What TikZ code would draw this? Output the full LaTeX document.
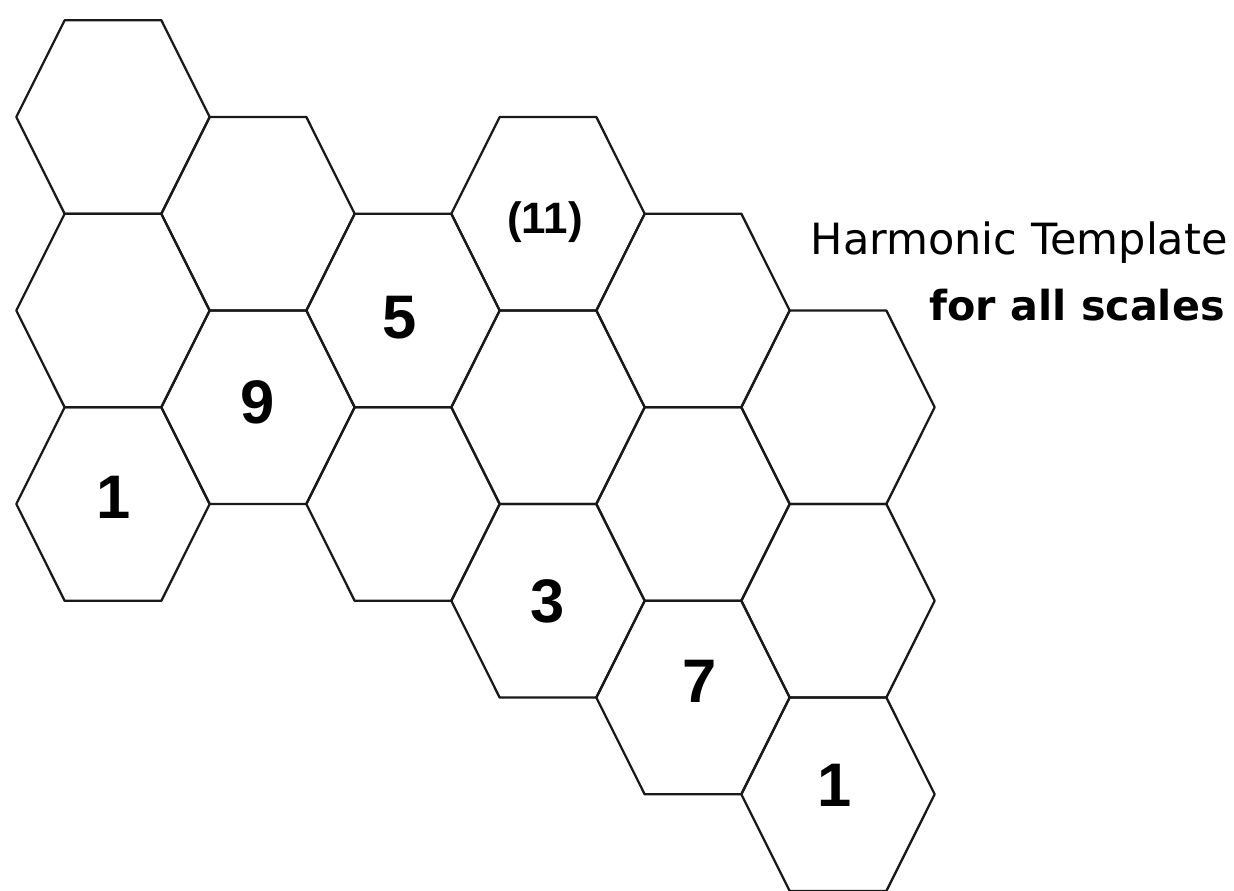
\documentclass[tikz,border=0pt]{standalone}
\usepackage{fontspec}
\newfontfamily\titlefont{DejaVu Sans}
\newfontfamily\digitfont{Liberation Sans}

\begin{document}
\begin{tikzpicture}[
    x=0.02cm, y=-0.02cm,
    cell/.style={draw=black!90, line width=1.3pt, line join=round},
    num/.style={font=\digitfont\bfseries\fontsize{35}{40}\selectfont,
                inner sep=0pt},
    smallnum/.style={font=\digitfont\bfseries\fontsize{25}{30}\selectfont,
                inner sep=0pt},
    caption/.style={font=\titlefont\fontsize{24.5}{28}\selectfont,
                anchor=base east, inner sep=0pt},
]
\useasboundingbox (0,0) rectangle (1234,890);

% --- Hexagon grid (column / half-row index) ---
\def\hs{96.7}
\def\hh{96.75}
\foreach \c/\k in {0/0, 0/2, 0/4, 1/1, 1/3, 2/2, 2/4, 3/1, 3/3, 3/5,
                   4/2, 4/4, 4/6, 5/3, 5/5, 5/7} {
    \draw[cell] ({113 + 145*\c - \hs}, {117 + \hh*\k})
        -- ++({\hs/2}, -\hh) -- ++(\hs, 0) -- ++({\hs/2}, \hh)
        -- ++({-\hs/2}, \hh) -- ++(-\hs, 0) -- cycle;
}

% --- Scale degrees ---
\node[num] (deg1) at (114, 497) {1};
\node[num] (deg9) at (258, 402) {9};
\node[num] (deg5) at (400, 318) {5};
\node[smallnum] (deg11) at (545, 222) {(11)};
\node[num] (deg3) at (548, 601) {3};
\node[num] (deg7) at (700, 681) {7};
\node[num] (degtop) at (835, 785) {1};

% --- Caption ---
\node[caption] (title) at (1228, 254) {Harmonic Template};
\node[caption, font=\titlefont\bfseries\fontsize{23.5}{26}\selectfont]
    (subtitle) at (1225, 320) {for all scales};

\end{tikzpicture}
\end{document}
